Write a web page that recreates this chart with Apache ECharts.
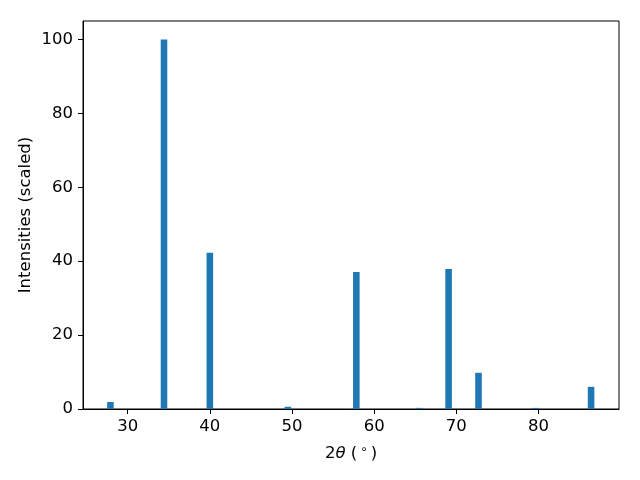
<!DOCTYPE html>
<html>
<head>
<meta charset="utf-8">
<script src="https://cdn.jsdelivr.net/npm/echarts@6/dist/echarts.min.js"></script>
<style>
  html, body { margin: 0; padding: 0; background: #fff; }
  #chart { width: 640px; height: 480px; }
</style>
</head>
<body>
<div id="chart"></div>
<script>
  // peak positions (2theta) and scaled intensities
  var twoTheta = [27.9, 34.42, 40.0, 49.5, 57.83, 65.5, 69.06, 72.7, 79.6, 86.4];
  var intensity = [1.9, 100, 42.3, 0.6, 37.1, 0.3, 37.9, 9.8, 0.3, 6.0];
  var xTicks = [30, 40, 50, 60, 70, 80];
  var yTicks = [0, 20, 40, 60, 80, 100];
  var barW = 0.8;

  var pts = [];
  for (var i = 0; i < twoTheta.length; i++) {
    pts.push([twoTheta[i], intensity[i]]);
  }

  var chart = echarts.init(document.getElementById('chart'));
  var font = 'DejaVu Sans';
  var fs = 16.5;
  chart.setOption({
    animation: false,
    grid: {
      left: 83, right: 21, top: 21, bottom: 71,
      show: true, borderColor: '#000', borderWidth: 1, backgroundColor: 'transparent'
    },
    xAxis: {
      type: 'value',
      min: 24.56,
      max: 89.8,
      splitLine: { show: false },
      axisLine: { show: true, onZero: false, lineStyle: { color: '#000', width: 1 } },
      axisTick: { show: true, length: 5, customValues: xTicks, lineStyle: { color: '#000' } },
      axisLabel: { customValues: xTicks, color: '#000', fontFamily: font, fontSize: fs, margin: 9 },
      name: '2{i|θ} ({s|∘})',
      nameLocation: 'middle',
      nameGap: 35,
      nameMoveOverlap: false,
      nameTextStyle: {
        color: '#000', fontFamily: font, fontSize: fs,
        rich: {
          i: { fontStyle: 'italic', fontFamily: font, fontSize: fs, color: '#000' },
          s: { fontFamily: font, fontSize: 12, color: '#000', verticalAlign: 'top', padding: [0, 3, 7, 3] }
        }
      }
    },
    yAxis: {
      type: 'value',
      min: 0,
      max: 105,
      splitLine: { show: false },
      axisLine: { show: true, lineStyle: { color: '#000', width: 1 } },
      axisTick: { show: true, length: 5, customValues: yTicks, lineStyle: { color: '#000' } },
      axisLabel: { customValues: yTicks, color: '#000', fontFamily: font, fontSize: fs, margin: 10 },
      name: 'Intensities (scaled)',
      nameLocation: 'middle',
      nameGap: 49,
      nameMoveOverlap: false,
      nameTextStyle: { color: '#000', fontFamily: font, fontSize: fs }
    },
    series: [{
      type: 'custom',
      data: pts,
      renderItem: function (params, api) {
        var x = api.value(0), y = api.value(1);
        var p0 = api.coord([x - barW / 2, y]);
        var p1 = api.coord([x + barW / 2, 0]);
        return {
          type: 'rect',
          shape: { x: p0[0], y: p0[1], width: p1[0] - p0[0], height: p1[1] - p0[1] },
          style: { fill: '#1f77b4' }
        };
      }
    }]
  });
</script>
</body>
</html>
